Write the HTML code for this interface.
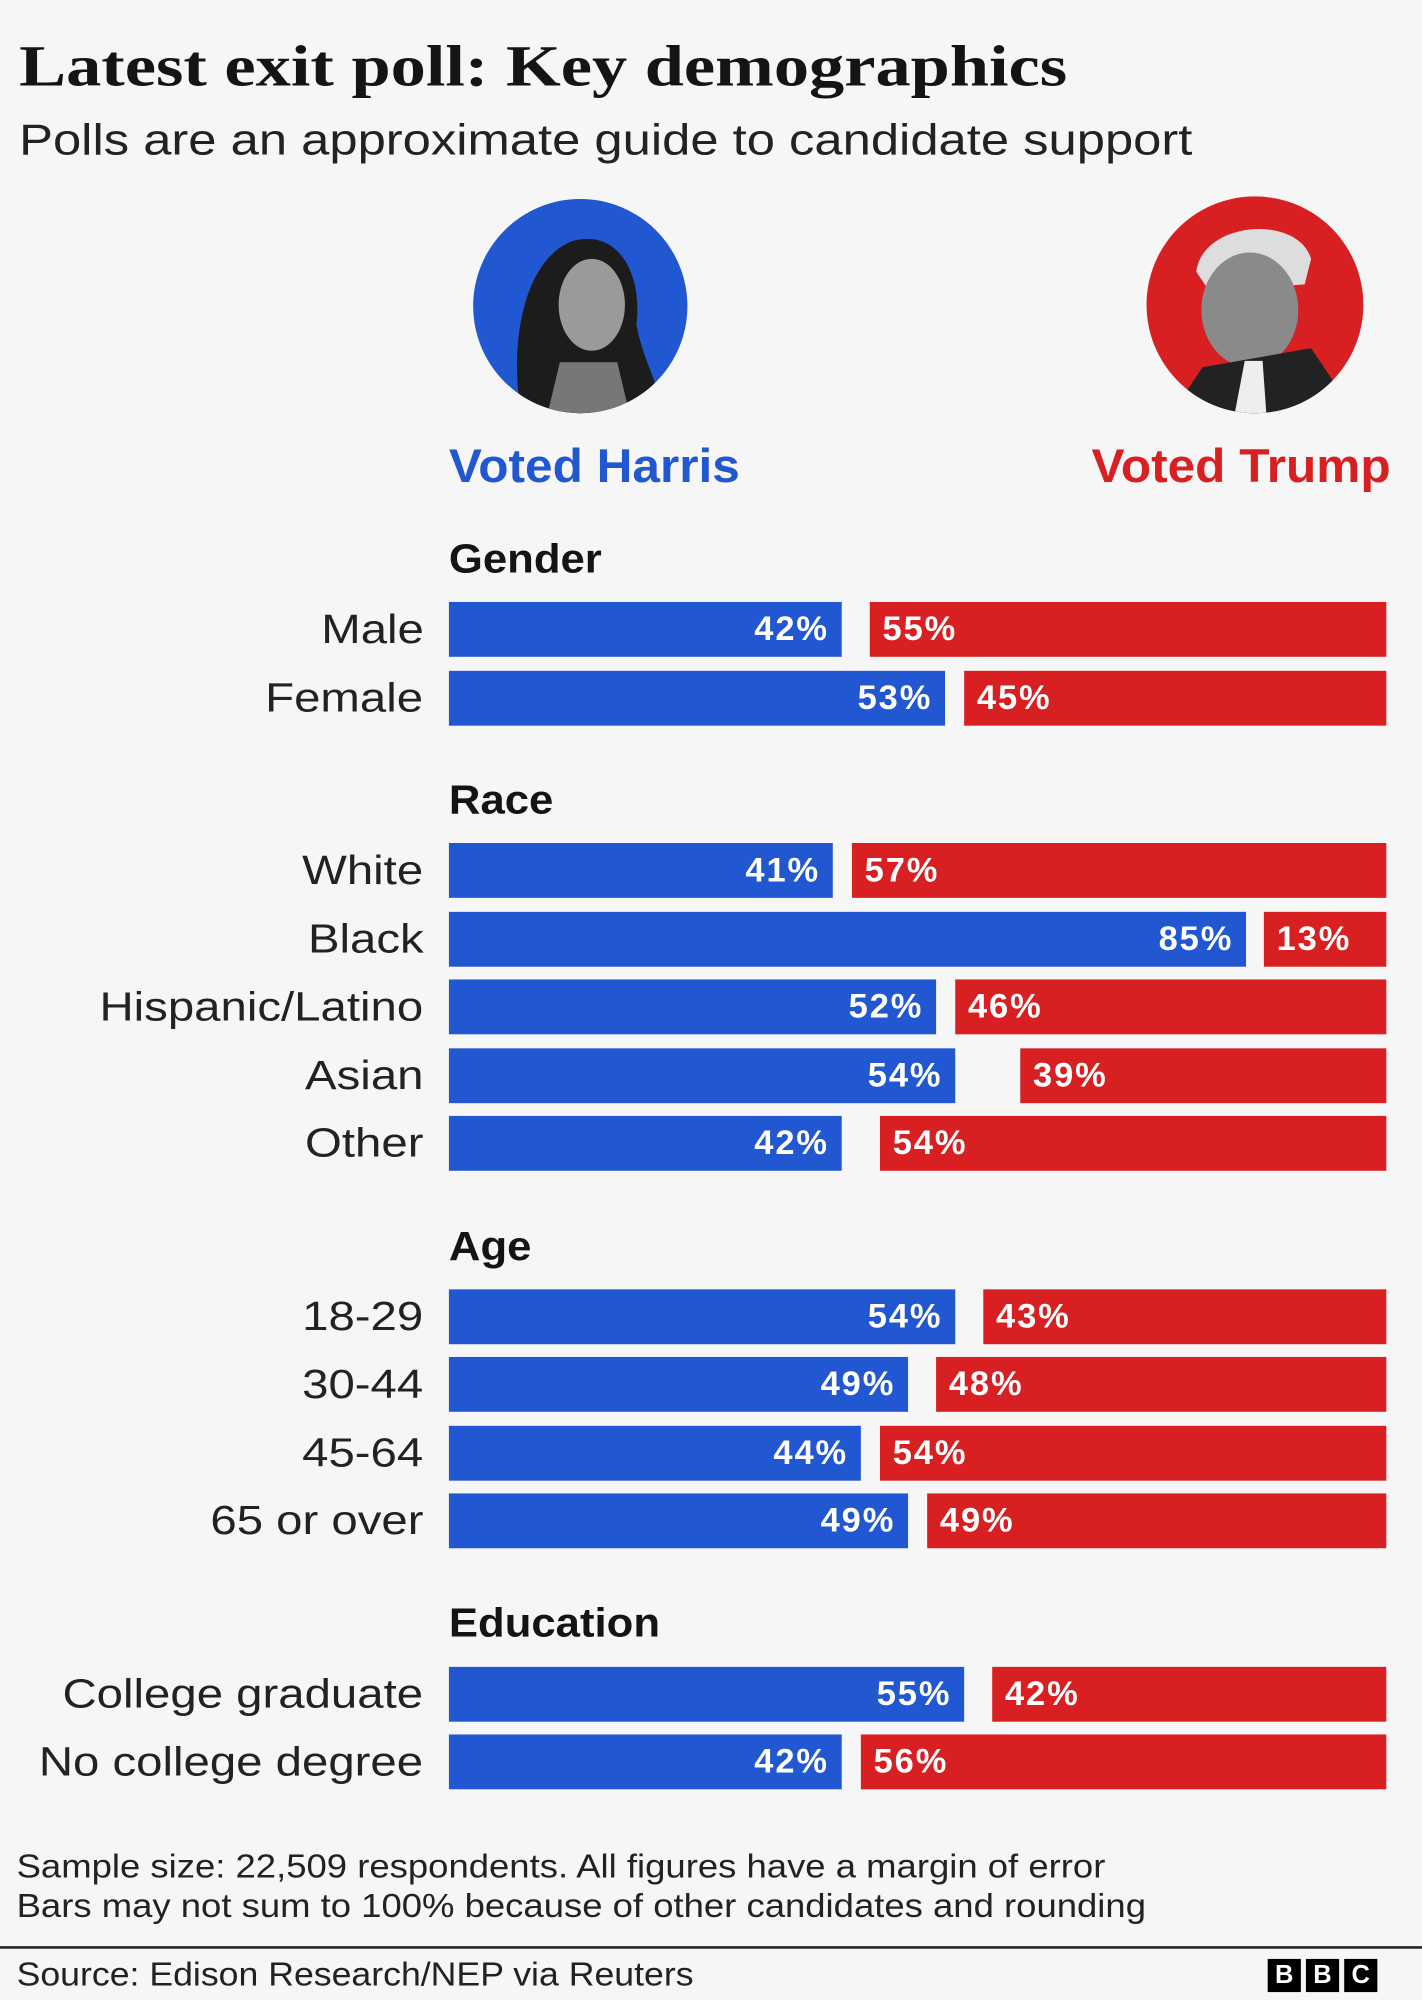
<!DOCTYPE html>
<html><head><meta charset="utf-8"><style>
html,body{margin:0;padding:0;background:#f6f6f6;}
#w{position:absolute;left:0;top:0;width:1115px;height:1568px;transform:scale(1.27534);transform-origin:0 0;font-family:"Liberation Sans",sans-serif;color:#141414;overflow:hidden;}
.a{position:absolute;white-space:nowrap;}
.lab{position:absolute;right:783px;font-size:32px;line-height:43px;text-align:right;color:#222;transform:scaleX(1.16);transform-origin:right center;white-space:nowrap;}
.b{position:absolute;height:43px;background:#2157d0;color:#fff;font-weight:bold;font-size:27px;line-height:43px;text-align:right;box-sizing:border-box;padding-right:10px;letter-spacing:1.5px;}
.r{position:absolute;height:43px;background:#d81f21;color:#fff;font-weight:bold;font-size:27px;line-height:43px;box-sizing:border-box;padding-left:10px;letter-spacing:1.5px;}
.h{position:absolute;left:352px;font-size:32px;font-weight:bold;line-height:40px;transform:scaleX(1.07);transform-origin:left center;}
</style></head><body><div id="w">
<div class="a" style="left:15px;top:24px;font-family:'Liberation Serif',serif;font-weight:bold;font-size:46px;line-height:56px;transform:scaleX(1.2);transform-origin:left center;">Latest exit poll: Key demographics</div>
<div class="a" style="left:15px;top:88px;font-size:34px;line-height:44px;color:#222;transform:scaleX(1.17);transform-origin:left center;">Polls are an approximate guide to candidate support</div>
<svg class="a" style="left:369px;top:154px" width="172" height="172"><circle cx="86" cy="86" r="84" fill="#2157d0"/><clipPath id="c1"><circle cx="86" cy="86" r="84"/></clipPath><g clip-path="url(#c1)"><path d="M40 172 C30 120 40 50 80 35 C115 25 135 60 130 100 C135 130 150 150 150 172Z" fill="#1c1c1c"/><ellipse cx="95" cy="85" rx="26" ry="36" fill="#9a9a9a"/><path d="M60 172 L70 130 L115 130 L125 172Z" fill="#777"/></g></svg>
<svg class="a" style="left:898px;top:153px" width="172" height="172"><circle cx="86" cy="86" r="85" fill="#d81f21"/><clipPath id="c2"><circle cx="86" cy="86" r="85"/></clipPath><g clip-path="url(#c2)"><path d="M40 60 C45 20 120 15 130 50 L125 70 L50 75Z" fill="#ddd"/><ellipse cx="82" cy="90" rx="38" ry="45" fill="#8a8a8a"/><path d="M20 172 L45 135 L130 120 L165 172Z" fill="#222"/><path d="M70 172 L78 130 L92 130 L95 172Z" fill="#eee"/></g></svg>
<div class="a" style="left:352px;top:344px;font-size:37px;font-weight:bold;color:#2157d0;line-height:44px;transform:scaleX(1.05);transform-origin:left center;">Voted Harris</div>
<div class="a" style="right:25px;top:344px;font-size:37px;font-weight:bold;color:#d81f21;line-height:44px;transform:scaleX(1.05);transform-origin:right center;">Voted Trump</div>

<div class="h" style="top:418px">Gender</div>
<div class="lab" style="top:472px">Male</div><div class="b" style="left:352px;top:472px;width:308px">42%</div><div class="r" style="left:682px;top:472px;width:405px">55%</div>
<div class="lab" style="top:526px">Female</div><div class="b" style="left:352px;top:526px;width:389px">53%</div><div class="r" style="left:756px;top:526px;width:331px">45%</div>

<div class="h" style="top:607px">Race</div>
<div class="lab" style="top:661px">White</div><div class="b" style="left:352px;top:661px;width:301px">41%</div><div class="r" style="left:668px;top:661px;width:419px">57%</div>
<div class="lab" style="top:715px">Black</div><div class="b" style="left:352px;top:715px;width:625px">85%</div><div class="r" style="left:991px;top:715px;width:96px">13%</div>
<div class="lab" style="top:768px">Hispanic/Latino</div><div class="b" style="left:352px;top:768px;width:382px">52%</div><div class="r" style="left:749px;top:768px;width:338px">46%</div>
<div class="lab" style="top:822px">Asian</div><div class="b" style="left:352px;top:822px;width:397px">54%</div><div class="r" style="left:800px;top:822px;width:287px">39%</div>
<div class="lab" style="top:875px">Other</div><div class="b" style="left:352px;top:875px;width:308px">42%</div><div class="r" style="left:690px;top:875px;width:397px">54%</div>

<div class="h" style="top:957px">Age</div>
<div class="lab" style="top:1011px">18-29</div><div class="b" style="left:352px;top:1011px;width:397px">54%</div><div class="r" style="left:771px;top:1011px;width:316px">43%</div>
<div class="lab" style="top:1064px">30-44</div><div class="b" style="left:352px;top:1064px;width:360px">49%</div><div class="r" style="left:734px;top:1064px;width:353px">48%</div>
<div class="lab" style="top:1118px">45-64</div><div class="b" style="left:352px;top:1118px;width:323px">44%</div><div class="r" style="left:690px;top:1118px;width:397px">54%</div>
<div class="lab" style="top:1171px">65 or over</div><div class="b" style="left:352px;top:1171px;width:360px">49%</div><div class="r" style="left:727px;top:1171px;width:360px">49%</div>

<div class="h" style="top:1252px">Education</div>
<div class="lab" style="top:1307px">College graduate</div><div class="b" style="left:352px;top:1307px;width:404px">55%</div><div class="r" style="left:778px;top:1307px;width:309px">42%</div>
<div class="lab" style="top:1360px">No college degree</div><div class="b" style="left:352px;top:1360px;width:308px">42%</div><div class="r" style="left:675px;top:1360px;width:412px">56%</div>

<div class="a" style="left:13px;top:1448px;font-size:26px;line-height:31px;color:#222;transform:scaleX(1.1);transform-origin:left center;">Sample size: 22,509 respondents. All figures have a margin of error<br>Bars may not sum to 100% because of other candidates and rounding</div>
<div class="a" style="left:0;top:1526px;width:1115px;height:2px;background:#222;"></div>
<div class="a" style="left:13px;top:1532px;font-size:26px;line-height:32px;color:#222;transform:scaleX(1.075);transform-origin:left center;">Source: Edison Research/NEP via Reuters</div>
<div class="a" style="left:994px;top:1536px;">
<span style="display:inline-block;width:26px;height:26px;background:#000;color:#fff;font-weight:bold;font-size:20px;line-height:26px;text-align:center;margin-right:4px">B</span><span style="display:inline-block;width:26px;height:26px;background:#000;color:#fff;font-weight:bold;font-size:20px;line-height:26px;text-align:center;margin-right:4px">B</span><span style="display:inline-block;width:26px;height:26px;background:#000;color:#fff;font-weight:bold;font-size:20px;line-height:26px;text-align:center">C</span></div>
</div></body></html>
